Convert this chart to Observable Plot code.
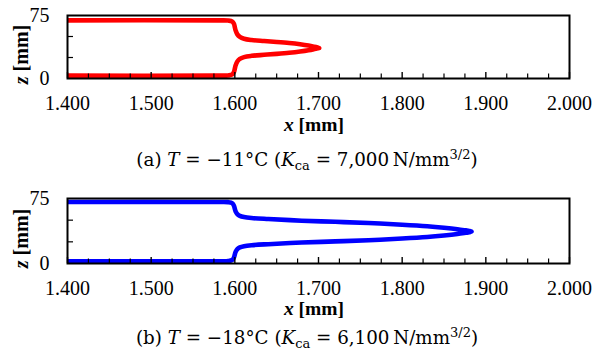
<!DOCTYPE html>
<html><head><meta charset="utf-8">
<script src="https://cdn.jsdelivr.net/npm/d3@7"></script>
<script src="https://cdn.jsdelivr.net/npm/@observablehq/plot@0.6"></script>
<style>
body{margin:0;background:#fff;}
#wrap{position:relative;width:606px;height:357px;overflow:hidden;background:#fff;}
#wrap svg{position:absolute;left:0;}
</style></head><body><div id="wrap"></div>
<script>
// ---- tick values / labels ----
const xTickLabels = [1.4, 1.5, 1.6, 1.7, 1.8, 1.9, 2.0];
const xMinorTicks = [1.425, 1.45, 1.475, 1.525, 1.55, 1.575, 1.625, 1.65, 1.675, 1.725, 1.75, 1.775, 1.825, 1.85, 1.875, 1.925, 1.95, 1.975];
const yTickLabels = [0, 75];
const yTickMarks = [25, 50];

// ---- panel (a) T = -11°C : red profile ----
const aUpperX = [1.400, 1.580, 1.592, 1.597, 1.599, 1.600, 1.601, 1.603, 1.606, 1.611, 1.620, 1.635, 1.650, 1.665, 1.678, 1.688, 1.695, 1.699, 1.701];
const aUpperZ = [69.2, 69.2, 69.0, 67.8, 65.0, 61.0, 57.0, 52.5, 49.5, 47.3, 45.8, 44.6, 43.5, 42.2, 40.7, 39.2, 37.8, 36.9, 36.4];
const aLowerX = [1.400, 1.580, 1.592, 1.597, 1.599, 1.600, 1.601, 1.603, 1.606, 1.611, 1.620, 1.635, 1.650, 1.665, 1.678, 1.688, 1.695, 1.699];
const aLowerZ = [3.4, 3.4, 3.6, 4.8, 7.8, 11.8, 15.8, 20.3, 23.3, 25.5, 27.0, 28.2, 29.3, 30.6, 32.1, 33.6, 35.0, 35.9];

// ---- panel (b) T = -18°C : blue profile ----
const bUpperX = [1.400, 1.580, 1.592, 1.597, 1.599, 1.600, 1.601, 1.603, 1.606, 1.611, 1.620, 1.640, 1.680, 1.720, 1.760, 1.800, 1.830, 1.850, 1.866, 1.876, 1.880, 1.883];
const bUpperZ = [71.0, 71.0, 70.8, 69.5, 66.5, 63.0, 60.0, 57.0, 55.0, 53.6, 52.5, 51.3, 49.4, 48.1, 46.7, 44.8, 43.0, 41.3, 39.6, 38.2, 37.6, 36.8];
const bLowerX = [1.400, 1.580, 1.592, 1.597, 1.599, 1.600, 1.601, 1.603, 1.606, 1.611, 1.620, 1.640, 1.680, 1.720, 1.760, 1.800, 1.830, 1.850, 1.866, 1.876, 1.880];
const bLowerZ = [2.6, 2.6, 2.8, 4.1, 7.1, 10.6, 13.6, 16.6, 18.6, 20.0, 21.1, 22.3, 24.2, 25.5, 26.9, 28.8, 30.6, 32.3, 34.0, 35.4, 36.0];

const captionA = {label: "(a) ", T: "−11°C", K: "7,000"};
const captionB = {label: "(b) ", T: "−18°C", K: "6,100"};

function profile(ux, uz, lx, lz) {
  const up = ux.map((x, i) => ({x, z: uz[i]}));
  const lo = lx.map((x, i) => ({x, z: lz[i]})).reverse();
  return up.concat(lo);
}

function panel(o) {
  const W = 606, mL = 67, mR = 37;
  const plotW = W - mL - mR;
  const plotH = o.height - o.marginTop - o.marginBottom;
  const svg = Plot.plot({
    width: W, height: o.height,
    marginLeft: mL, marginRight: mR, marginTop: o.marginTop, marginBottom: o.marginBottom,
    x: {domain: [1.4, 2.0]},
    y: {domain: [0, 75]},
    style: {fontFamily: "'Liberation Serif', 'Times New Roman', serif", fontSize: "20px", color: "black", background: "white", overflow: "visible"},
    marks: [
      Plot.line(o.data, {x: "x", y: "z", stroke: o.color, strokeWidth: 4.6, strokeLinecap: "butt", curve: "catmull-rom"}),
      Plot.frame({stroke: "black", strokeWidth: 2}),
      Plot.tickX(xMinorTicks, {x: d => d, stroke: "black", strokeWidth: 1.2, insetTop: plotH - 4.5}),
      Plot.tickX(xTickLabels, {x: d => d, stroke: "black", strokeWidth: 1.4, insetTop: plotH - 6}),
      Plot.tickY(yTickMarks, {y: d => d, stroke: "black", strokeWidth: 1.2, insetRight: plotW - 6}),
      Plot.axisX(xTickLabels, {tickSize: 0, tickPadding: 17, tickFormat: d3.format(".3f"), label: null}),
      Plot.axisY(yTickLabels, {tickSize: 0, tickPadding: 18, tickFormat: d => String(d), label: null})
    ]
  });
  svg.style.top = o.top + "px";
  const s = d3.select(svg);
  const frameBottom = o.height - o.marginBottom;
  const frameMid = o.marginTop + plotH / 2;
  // y label
  const yl = s.append("text")
    .attr("transform", `translate(21,${frameMid + 8}) rotate(-90)`)
    .attr("text-anchor", "middle").attr("dominant-baseline", "central")
    .attr("font-family", "'Liberation Serif', serif").attr("font-size", 20).attr("font-weight", "bold").attr("fill", "black");
  yl.append("tspan").attr("font-style", "italic").text("z");
  yl.append("tspan").text(" [mm]");
  // x label
  const xl = s.append("text")
    .attr("x", 314).attr("y", frameBottom + o.xLabelOffset)
    .attr("text-anchor", "middle")
    .attr("font-family", "'Liberation Serif', serif").attr("font-size", 19.5).attr("font-weight", "bold").attr("fill", "black");
  xl.append("tspan").attr("font-style", "italic").text("x");
  xl.append("tspan").text(" [mm]");
  // caption
  const c = s.append("text")
    .attr("x", 307).attr("y", o.captionY)
    .attr("text-anchor", "middle")
    .attr("font-family", "'DejaVu Serif', serif").attr("font-size", 18.3).attr("fill", "black");
  c.append("tspan").text(o.caption.label);
  c.append("tspan").attr("font-style", "italic").text("T");
  c.append("tspan").text(" = " + o.caption.T + " (");
  c.append("tspan").attr("font-style", "italic").text("K");
  c.append("tspan").attr("font-size", 13).attr("dy", 4).text("ca");
  c.append("tspan").attr("dy", -4).text(" = " + o.caption.K + "\u2009N/mm");
  c.append("tspan").attr("font-size", 13).attr("dy", -7).text("3/2");
  c.append("tspan").attr("dy", 7).text(")");
  document.getElementById("wrap").appendChild(svg);
}

panel({top: 0, height: 180, marginTop: 15, marginBottom: 102, color: "#ff0000",
  data: profile(aUpperX, aUpperZ, aLowerX, aLowerZ), xLabelOffset: 52.5, captionY: 165.5, caption: captionA});
panel({top: 180, height: 177, marginTop: 18, marginBottom: 94, color: "#0000ff",
  data: profile(bUpperX, bUpperZ, bLowerX, bLowerZ), xLabelOffset: 51.5, captionY: 164, caption: captionB});
</script></body></html>
